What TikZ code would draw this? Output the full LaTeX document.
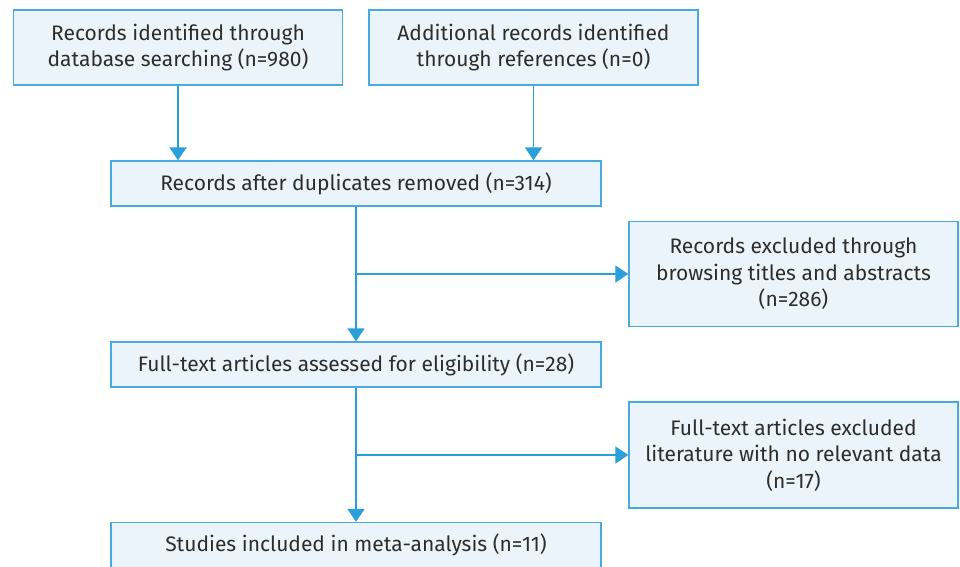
\documentclass[tikz,border=0pt]{standalone}
\usepackage{fontspec}
\setmainfont{Fira Sans}
\usepackage{tikz}
\usetikzlibrary{arrows.meta}
\definecolor{flowline}{RGB}{42,160,218}
\definecolor{flowedge}{RGB}{72,170,222}
\definecolor{flowfill}{RGB}{235,244,251}
\definecolor{flowtext}{RGB}{45,45,45}

\begin{document}
\begin{tikzpicture}[x=1pt,y=-1pt,
  -{Triangle[width=17pt,length=13pt]},line width=1.5pt,draw=flowline,
  every node/.append style={font=\fontsize{21}{26.5}\selectfont,text=flowtext}]
  \tikzstyle{stage} = [draw=flowedge,fill=flowfill,line width=1.3pt,align=center,inner sep=0pt]
  \tikzstyle{wide} = [stage,minimum width=490pt,minimum height=45pt]
  \tikzstyle{side} = [stage,minimum width=329pt]
  \useasboundingbox (0,0) rectangle (960,566);
  \node (1_1) [side,minimum height=75pt] at (178,47.5) {Records identified through\\database searching (n=980)};
  \node (1_2) [side,minimum height=75pt] at (533.5,47.5) {Additional records identified\\through references (n=0)};
  \node (1_3) [wide] at (356,183.5) {Records after duplicates removed (n=314)};
  \node (1_4) [side,minimum height=105pt] at (793.5,274) {Records excluded through\\browsing titles and abstracts\\(n=286)};
  \node (1_5) [wide] at (356,364.5) {Full-text articles assessed for eligibility (n=28)};
  \node (1_6) [side,minimum height=106pt] at (793.5,455) {Full-text articles excluded\\literature with no relevant data\\(n=17)};
  \node (1_7) [wide] at (356,545) {Studies included in meta-analysis (n=11)};
  \coordinate (2_1) at (356,274);
  \coordinate (2_2) at (356,455);
  \draw (1_1.south) -- (1_1.south |- 1_3.north);
  \draw (1_2.south) -- (1_2.south |- 1_3.north);
  \draw (1_3) -- (1_5);
  \draw (2_1) -- (1_4.west);
  \draw (1_5) -- (1_7);
  \draw (2_2) -- (1_6.west);
\end{tikzpicture}
\end{document}
